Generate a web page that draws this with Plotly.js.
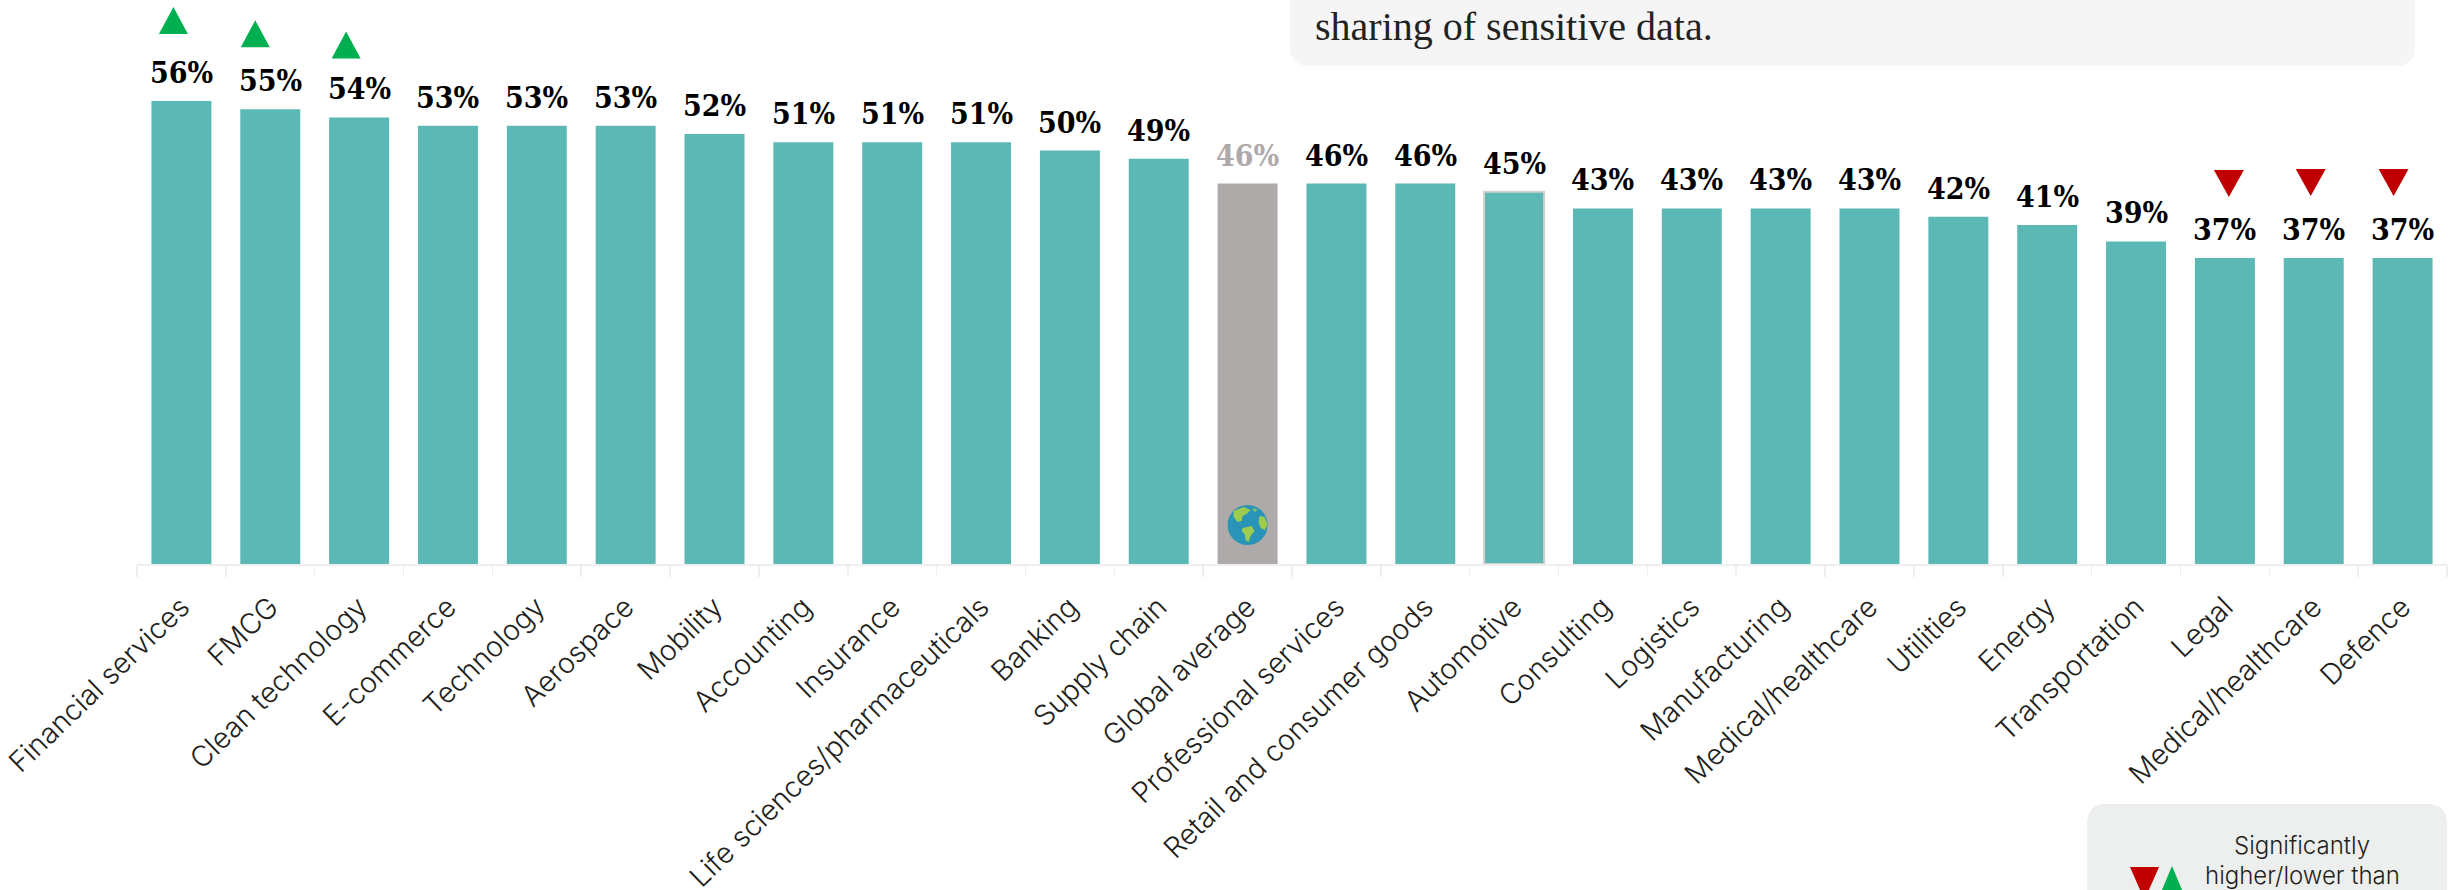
<!DOCTYPE html>
<html>
<head>
<meta charset="utf-8">
<script src="https://cdn.plot.ly/plotly-3.0.1.min.js"></script>
<style>html,body{margin:0;padding:0;background:#fff;overflow:hidden}#chart{width:2458px;height:890px}</style>
</head>
<body>
<div id="chart"></div>
<script>
// Share of respondents by sector
const sectors = ["Financial services","FMCG","Clean technology","E-commerce","Technology","Aerospace","Mobility","Accounting","Insurance","Life sciences/pharmaceuticals","Banking","Supply chain","Global average","Professional services","Retail and consumer goods","Automotive","Consulting","Logistics","Manufacturing","Medical/healthcare","Utilities","Energy","Transportation","Legal","Medical/healthcare","Defence"];
const shares = [56,55,54,53,53,53,52,51,51,51,50,49,46,46,46,45,43,43,43,43,42,41,39,37,37,37];
const higherThanAverage = [0,1,2];
const lowerThanAverage = [23,24,25];
const averageIndex = 12;
const outlinedIndex = 15;

const TEAL = '#5cb8b4', GREY = '#aeaaaa', GREEN = '#00b050', RED = '#c00000', INK = '#231f20';
const LABEL_FONT = '"DejaVu Serif Condensed", "DejaVu Serif", serif';
const PLOT = {l:137, r:11, t:0, b:326, w:2310, h:564};
const paperX = x => (x - PLOT.l) / PLOT.w;
const paperY = y => (PLOT.h - y) / PLOT.h;
const ids = sectors.map((_, i) => String(i));

// Triangle flags float above the labels; [dx, height of flat edge above bar top] in pixels
const flagNudge = {0:[-8,67],1:[-15,62],2:[-13,59],23:[4,88],24:[-3,89],25:[-9,89]};
const flag = (i, up) => {
  const [dx, h] = flagNudge[i];
  const path = up
    ? `M ${dx-14.5} ${h} L ${dx+14.5} ${h} L ${dx} ${h+27} Z`
    : `M ${dx-15} ${h} L ${dx+15} ${h} L ${dx} ${h-27} Z`;
  return {type:'path', xref:'x', yref:'y', xsizemode:'pixel', ysizemode:'pixel',
    xanchor:ids[i], yanchor:shares[i], path, fillcolor: up ? GREEN : RED, line:{width:0}, layer:'above'};
};

// Small globe on the average bar, y pointing up from its centre
const globePart = (path, color) => ({type:'path', xref:'x', yref:'paper', xsizemode:'pixel', ysizemode:'pixel',
  xanchor:ids[averageIndex], yanchor:paperY(525), path, fillcolor:color, line:{width:0}, layer:'above'});
const globe = [
  {type:'circle', xref:'x', yref:'paper', xsizemode:'pixel', ysizemode:'pixel',
   xanchor:ids[averageIndex], yanchor:paperY(525), x0:-20, x1:20, y0:-20, y1:20, fillcolor:'#2a93b8', line:{width:0}, layer:'above'},
  globePart('M -14 14 L -4 18 L 3 15 L -1 11 L -5 9 L -6 4 L -10 3 L -14 8 Z', '#9ccb4e'),
  globePart('M -5 -3 L 4 -1 L 7 -6 L 3 -11 L 1 -17 L -2 -15 L -3 -9 L -6 -6 Z', '#9ccb4e'),
  globePart('M 12 9 L 17 8 L 20 0 L 17 -5 L 13 -3 L 11 3 Z', '#9ccb4e'),
  globePart('M 5 17 L 10 15 L 7 13 Z', '#9ccb4e')
];

const calloutBox = () => {
  const X = paperX, Y = paperY, r = 20, x0 = 1290, x1 = 2415, y0 = -30, y1 = 66;
  return {type:'path', xref:'paper', yref:'paper',
    path:`M ${X(x0)} ${Y(y0)} L ${X(x0)} ${Y(y1-r)} Q ${X(x0)} ${Y(y1)} ${X(x0+r)} ${Y(y1)} L ${X(x1-r)} ${Y(y1)} Q ${X(x1)} ${Y(y1)} ${X(x1)} ${Y(y1-r)} L ${X(x1)} ${Y(y0)} Z`,
    fillcolor:'#f5f5f5', line:{width:0}, layer:'below'};
};
const legendBox = () => {
  const X = paperX, Y = paperY, r = 20, x0 = 2087, x1 = 2447, y0 = 804, y1 = 900;
  return {type:'path', xref:'paper', yref:'paper',
    path:`M ${X(x0)} ${Y(y1)} L ${X(x0)} ${Y(y0+r)} Q ${X(x0)} ${Y(y0)} ${X(x0+r)} ${Y(y0)} L ${X(x1-r)} ${Y(y0)} Q ${X(x1)} ${Y(y0)} ${X(x1)} ${Y(y0+r)} L ${X(x1)} ${Y(y1)} Z`,
    fillcolor:'#edeeee', line:{width:0}, layer:'below'};
};
const tri = (pts, color) => ({type:'path', xref:'paper', yref:'paper',
  path:'M ' + pts.map(p => paperX(p[0]) + ' ' + paperY(p[1])).join(' L ') + ' Z',
  fillcolor:color, line:{width:0}, layer:'above'});

const valueLabels = shares.map((v, i) => ({
  x: ids[i], y: v, xref:'x', yref:'y', yanchor:'bottom', yshift:9, showarrow:false,
  text: v + '%', font:{family:LABEL_FONT, size:30, weight:700, color: i === averageIndex ? GREY : '#000'}
}));

const trace = {
  type:'bar', x: ids, y: shares, hoverinfo:'skip', width:0.675,
  marker:{
    color: shares.map((_, i) => i === averageIndex ? GREY : TEAL),
    line:{color: shares.map((_, i) => i === outlinedIndex ? '#cfcfcf' : 'rgba(0,0,0,0)'),
          width: shares.map((_, i) => i === outlinedIndex ? 2 : 0)}
  }
};

const layout = {
  width:2458, height:890, paper_bgcolor:'#fff', plot_bgcolor:'#fff', showlegend:false,
  margin:{l:PLOT.l, r:PLOT.r, t:PLOT.t, b:PLOT.b, pad:0},
  bargap:0.325,
  xaxis:{type:'category', categoryorder:'array', categoryarray:ids, tickmode:'array', tickvals:ids, ticktext:sectors,
    tickson:'boundaries', ticks:'outside', ticklen:11, tickwidth:1.5, tickcolor:'#eeeeee',
    showline:true, linecolor:'#eeeeee', linewidth:2, showgrid:false, zeroline:false, ticklabelstandoff:13,
    tickangle:-44, tickfont:{family:'Inter, sans-serif', size:28.5, weight:300, color:INK}, automargin:false},
  yaxis:{range:[0, PLOT.h / 8.27], visible:false, fixedrange:true},
  shapes:[
    calloutBox(),
    legendBox(),
    tri([[2130,867],[2159,867],[2144.5,900]], RED),
    tri([[2159,897],[2185,897],[2172,866]], GREEN),
    ...higherThanAverage.map(i => flag(i, true)),
    ...lowerThanAverage.map(i => flag(i, false)),
    ...globe
  ],
  annotations:[
    ...valueLabels,
    {xref:'paper', yref:'paper', x:paperX(1313), y:paperY(51), xanchor:'left', yanchor:'bottom', showarrow:false,
     text:'sharing of sensitive data.', font:{family:'"Liberation Serif", serif', size:40, color:'#222'}},
    {xref:'paper', yref:'paper', x:paperX(2302), y:paperY(862), xanchor:'center', yanchor:'bottom', showarrow:false,
     text:'Significantly', font:{family:'Inter, sans-serif', size:24, weight:300, color:INK}},
    {xref:'paper', yref:'paper', x:paperX(2302), y:paperY(892), xanchor:'center', yanchor:'bottom', showarrow:false,
     text:'higher/lower than', font:{family:'Inter, sans-serif', size:24, weight:300, color:INK}}
  ]
};
Plotly.newPlot('chart', [trace], layout, {displayModeBar:false, staticPlot:true});
</script>
</body>
</html>
